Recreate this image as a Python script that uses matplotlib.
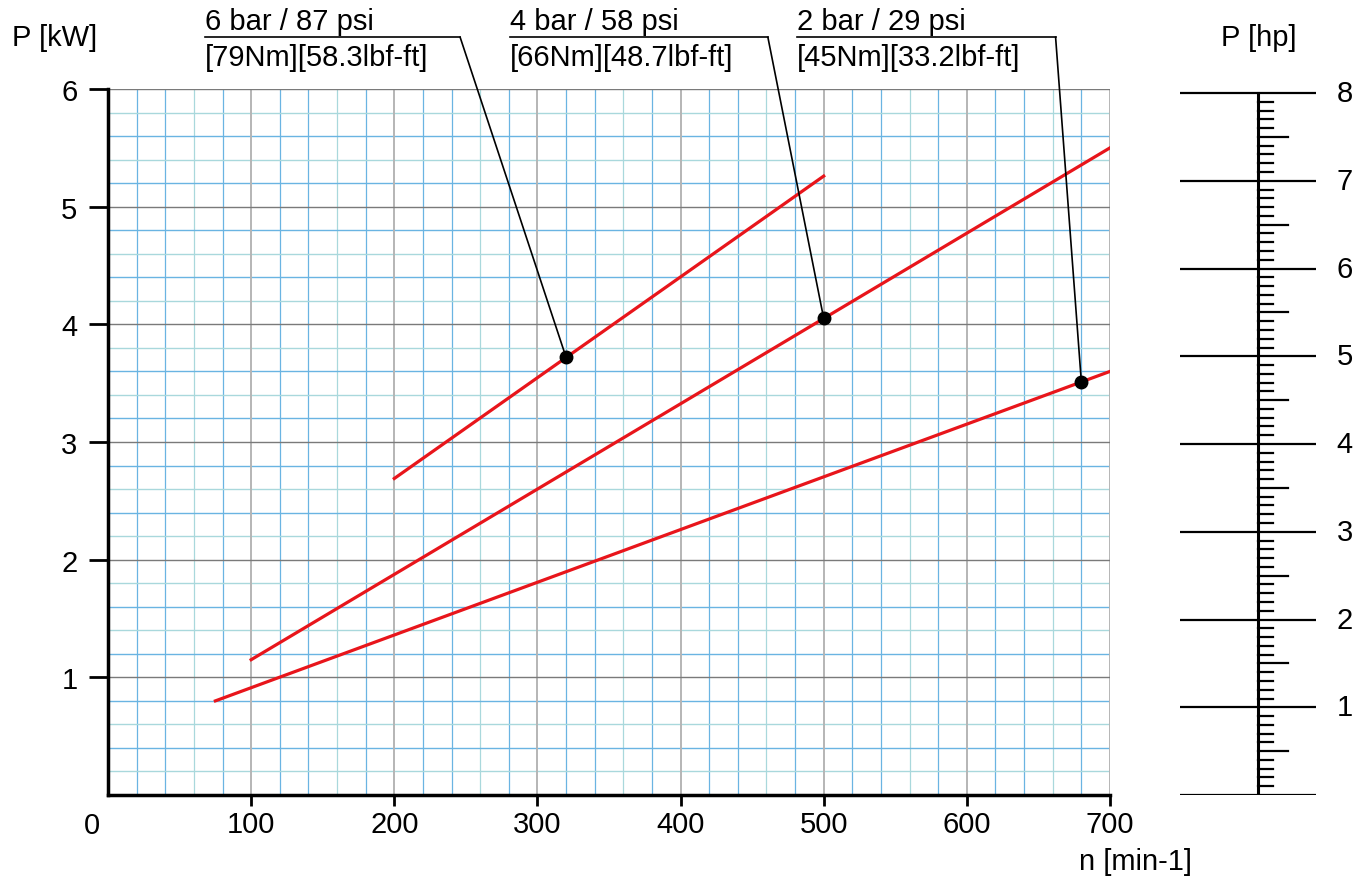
import matplotlib
matplotlib.use("Agg")
import matplotlib.pyplot as plt
import numpy as np

plt.rcParams['font.family'] = ['Liberation Sans', 'DejaVu Sans']

# pressure curves: power [kW] vs speed [min-1]
curve_labels = ["6 bar / 87 psi", "4 bar / 58 psi", "2 bar / 29 psi"]
curve_torque = ["[79Nm][58.3lbf-ft]", "[66Nm][48.7lbf-ft]", "[45Nm][33.2lbf-ft]"]
n_start = [200, 100, 75]
n_end = [500, 700, 700]
p_start = [2.69, 1.15, 0.80]
p_end = [5.26, 5.50, 3.60]
# marked points
dot_n = [320, 500, 680]
dot_p = [3.72, 4.05, 3.51]
# label anchor (speed) for the underline of each label
label_left = [68, 281, 481]
label_right = [246, 461, 662]

x_ticks = [100, 200, 300, 400, 500, 600, 700]
y_ticks = [1, 2, 3, 4, 5, 6]
hp_ticks = [1, 2, 3, 4, 5, 6, 7, 8]
KW_PER_HP = 0.7457

fig = plt.figure(figsize=(13.69, 8.79), dpi=100)
ax = fig.add_axes([0.0789, 0.0944, 0.7319, 0.8032])
ax.set_xlim(0, 700)
ax.set_ylim(0, 6)

# grid paper
for x in np.arange(20, 701, 20):
    if round(x) % 100 == 0:
        ax.axvline(x, color="#b5b5b5", lw=1.4, zorder=1)
    else:
        c = "#a9d8dc" if round(x) % 100 == 60 else "#6ab4e2"
        ax.axvline(x, color=c, lw=0.9, zorder=0.5)
for y in np.arange(0.2, 6.01, 0.2):
    if abs(y - round(y)) < 1e-6:
        ax.axhline(y, color="#7a7a7a", lw=1.0, zorder=1)
    else:
        c = "#a9d8dc" if int(round(y * 5)) % 2 == 1 else "#6ab4e2"
        ax.axhline(y, color=c, lw=1.0, zorder=0.5)

for i in range(3):
    ax.plot([n_start[i], n_end[i]], [p_start[i], p_end[i]], color="#e8151b", lw=2.3, zorder=3)
ax.plot(dot_n, dot_p, "o", color="black", ms=9, zorder=5)

# labels with leader lines
y_rule = 6.44
for i in range(3):
    ax.plot([label_left[i], label_right[i]], [y_rule, y_rule], color="black", lw=1.2, clip_on=False)
    ax.plot([label_right[i], dot_n[i]], [y_rule, dot_p[i]], color="black", lw=1.2, clip_on=False, zorder=4)
    ax.text(label_left[i], 6.58, curve_labels[i], fontsize=21, ha="left", va="center")
    ax.text(label_left[i], 6.27, curve_torque[i], fontsize=21, ha="left", va="center")

for s in ["top", "right"]:
    ax.spines[s].set_visible(False)
ax.spines["left"].set_linewidth(2.5)
ax.spines["bottom"].set_linewidth(2.5)
ax.set_xticks(x_ticks)
ax.set_yticks(y_ticks)
ax.tick_params(axis="y", length=14, width=2, labelsize=21, pad=8)
ax.tick_params(axis="x", length=8, width=2, labelsize=21, pad=3)
ax.text(-11, -0.255, "0", fontsize=21, ha="center", va="center")
ax.text(-37, 6.44, "P [kW]", fontsize=21, ha="center", va="center")
ax.text(718, -0.56, "n [min-1]", fontsize=21, ha="center", va="center")

# hp scale
ax2 = fig.add_axes([0.8622, 0.0944, 0.0993, 0.8032])
ax2.set_xlim(0, 1)
ax2.set_ylim(0, 6 / KW_PER_HP)
ax2.axis("off")
xc = 0.574
ax2.plot([xc, xc], [0, 8], color="black", lw=2.2)
ax2.plot([0, 1], [0, 0], color="black", lw=1.6)
for h in hp_ticks:
    ax2.plot([0, 1], [h, h], color="black", lw=1.6)
    ax2.text(1.21, h, str(h), fontsize=21, ha="center", va="center", clip_on=False)
for k in range(80):
    h = k / 10
    if k % 10 == 0:
        continue
    tl = 0.22 if k % 5 == 0 else 0.11
    ax2.plot([xc, xc + tl], [h, h], color="black", lw=1.6)
ax2.text(0.574, 8.64, "P [hp]", fontsize=21, ha="center", va="center", clip_on=False)

fig.savefig("out.png", dpi=100)
